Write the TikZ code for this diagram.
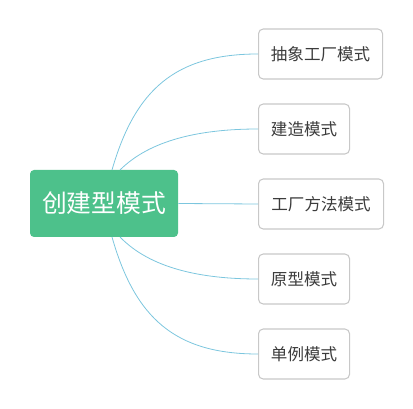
\documentclass[tikz,border=0pt]{standalone}
\usepackage{fontspec}
\newfontfamily\cjk{Noto Sans CJK SC}
\definecolor{rootgreen}{HTML}{4DC18B}
\definecolor{linkblue}{HTML}{7CC6DE}
\definecolor{boxgray}{HTML}{C8C8C8}
\definecolor{txtgray}{HTML}{3C3C3C}
\begin{document}
\begin{tikzpicture}[x=0.75pt,y=-0.75pt,
  rootbox/.style={fill=rootgreen,draw=none,rounded corners=3pt,text=white,font=\cjk\fontsize{18.6}{22}\selectfont,inner sep=0pt},
  childbox/.style={fill=white,draw=boxgray,line width=0.8pt,rounded corners=3.5pt,text=txtgray,font=\cjk\fontsize{12.4}{15}\selectfont,inner sep=0pt,anchor=west},
  link/.style={draw=linkblue,line width=0.6pt}]
\useasboundingbox (0,0) rectangle (413,409);
\node[rootbox,minimum width=148*0.75pt,minimum height=67*0.75pt] (root) at (104,203.5) {创建型模式};
\node[childbox,minimum width=124*0.75pt,minimum height=50*0.75pt] (c1) at (258,54) {抽象工厂模式};
\node[childbox,minimum width=91*0.75pt,minimum height=50*0.75pt] (c2) at (258,129) {建造模式};
\node[childbox,minimum width=125*0.75pt,minimum height=50*0.75pt] (c3) at (258,204) {工厂方法模式};
\node[childbox,minimum width=91*0.75pt,minimum height=50*0.75pt] (c4) at (258,279) {原型模式};
\node[childbox,minimum width=91*0.75pt,minimum height=50*0.75pt] (c5) at (258,354) {单例模式};
\coordinate (r1) at (112,170);
\coordinate (r2) at (120,170);
\coordinate (r4) at (120,237);
\coordinate (r5) at (112,237);
\draw[link] (r1) .. controls (135,90) and (175,54) .. (c1.west);
\draw[link] (r2) .. controls (150,140) and (200,129) .. (c2.west);
\draw[link] (root.east) -- (c3.west);
\draw[link] (r4) .. controls (150,268) and (200,279) .. (c4.west);
\draw[link] (r5) .. controls (135,318) and (175,354) .. (c5.west);
\end{tikzpicture}
\end{document}
